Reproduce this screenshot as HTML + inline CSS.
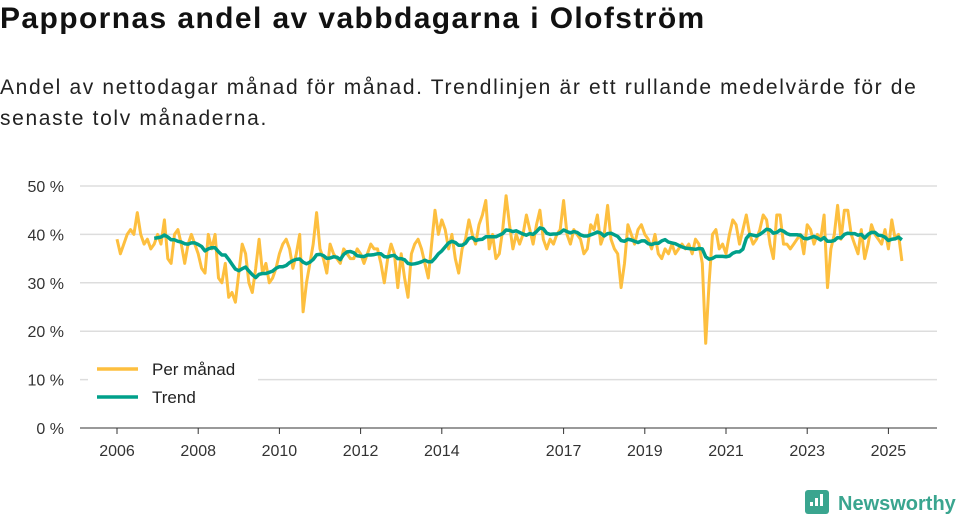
<!DOCTYPE html>
<html><head><meta charset="utf-8">
<style>
body{margin:0;width:960px;height:520px;background:#fff;font-family:"Liberation Sans","DejaVu Sans",sans-serif;overflow:hidden;position:relative}
h1{position:absolute;left:0;top:2px;margin:0;font-size:30px;font-weight:bold;color:#111;letter-spacing:1.4px}
p{position:absolute;left:0;top:72px;margin:0;font-size:21px;line-height:31px;color:#222;width:940px;letter-spacing:1.65px}
svg{position:absolute;left:0;top:0}
</style></head><body>
<h1>Pappornas andel av vabbdagarna i Olofström</h1>
<p>Andel av nettodagar månad för månad. Trendlinjen är ett rullande medelvärde för de senaste tolv månaderna.</p>
<svg id="chart" width="960" height="520"></svg>
<script>
const yTicks=[0,10,20,30,40,50];
const xTickLabels=["2006","2008","2010","2012","2014","2017","2019","2021","2023","2025"];
const xTickYears=[2006,2008,2010,2012,2014,2017,2019,2021,2023,2025];
const startYear=2006;
const monthly=[
39,36,38,40,41,40,44.5,40,38,39,37,38,
40,38,43,35,34,40,41,38,34,38,40,38,
36,33,32,40,37,40,31,30,34,27,28,26,
32,38,36,30,28,33,39,32,34,30,31,33,
36,38,39,37,33,36,40,24,30,34,38,44.5,
37,35,32,38,36,35,34,37,36,35,35,37,
36,34,36,38,37,37,34,30,35,38,36,29,
36,31,27,36,38,39,37,34,31,38,45,40,
43,41,37,40,35,32,37,39,43,40,38,42,
44,47,37,40,35,36,41,48,42,37,40,38,
40,44,41,38,42,45,39,37,39,38,40,41,
47,40,38,41,40,39,36,37,42,41,44,38,
40,46,39,37,36,29,34,42,40,38,41,42,
40,39,37,40,36,35,37,36,38,36,37,38,
37,38,36,39,38,34,17.5,30,40,41,37,38,
36,40,43,42,38,41,44,40,38,39,41,44,
43,38,35,44,44,38,38,37,38,39,40,36,
42,41,38,40,39,44,29,37,40,46,39,45,
45,40,38,36,41,35,38,42,40,39,38,41,
37,43,39,40,34.5];
const svg=document.getElementById('chart');
const NS='http://www.w3.org/2000/svg';
const x=m=>117+m*(40.6/12);
const y=v=>428-v*4.84;
function el(t,a,txt){const e=document.createElementNS(NS,t);for(const k in a)e.setAttribute(k,a[k]);if(txt!=null)e.textContent=txt;svg.appendChild(e);return e;}
yTicks.forEach(t=>{
 const g=el('line',{x1:80,x2:937,y1:y(t),y2:y(t),stroke:t===0?'#333':'#ddd','stroke-width':t===0?1:1.5});
 
 
 const l=el('text',{x:64,y:y(t)+6,'text-anchor':'end','font-size':16,fill:'#333'},t+' %');
 
 
});
xTickYears.forEach((yr,i)=>{
 const xx=x((yr-startYear)*12);
 const tk=el('line',{x1:xx,x2:xx,y1:428,y2:434,stroke:'#333'});
 
 
 const l=el('text',{x:xx,y:456,'text-anchor':'middle','font-size':16,fill:'#333'},xTickLabels[i]);
 
 
});
const pm=el('path',{d:monthly.map((v,i)=>(i?'L':'M')+x(i).toFixed(1)+','+y(v).toFixed(1)).join(''),fill:'none',stroke:'#fdbf3f','stroke-width':3,'stroke-linejoin':'round'});


const trend=[];
for(let i=11;i<monthly.length;i++){let s=0;for(let j=i-11;j<=i;j++)s+=monthly[j];trend.push([i,s/12]);}
const tr=el('path',{d:trend.map((p,k)=>(k?'L':'M')+x(p[0]).toFixed(1)+','+y(p[1]).toFixed(1)).join(''),fill:'none',stroke:'#00a08a','stroke-width':3.5,'stroke-linejoin':'round'});


const bg=el('rect',{x:88,y:354,width:170,height:58,fill:'#fff'});


[['Per månad','#fdbf3f',369],['Trend','#00a08a',397]].forEach(e=>{
 const ln=el('line',{x1:97,x2:138,y1:e[2],y2:e[2],stroke:e[1],'stroke-width':3.5});
 
 
 const t=el('text',{x:152,y:e[2]+6,'font-size':17,fill:'#222'},e[0]);
 
 
});
const logo=el('rect',{x:805,y:490,width:24,height:24,rx:3,fill:'#3aa58f'});


[[810,502,4],[815,498,8],[820,494,12]].forEach(b=>{const r=el('rect',{x:b[0],y:b[1],width:3,height:b[2],fill:'#fff'});});
const lt=el('text',{x:838,y:510,'font-size':20,fill:'#3aa58f','font-weight':'bold'},'Newsworthy');


</script>
</body></html>
